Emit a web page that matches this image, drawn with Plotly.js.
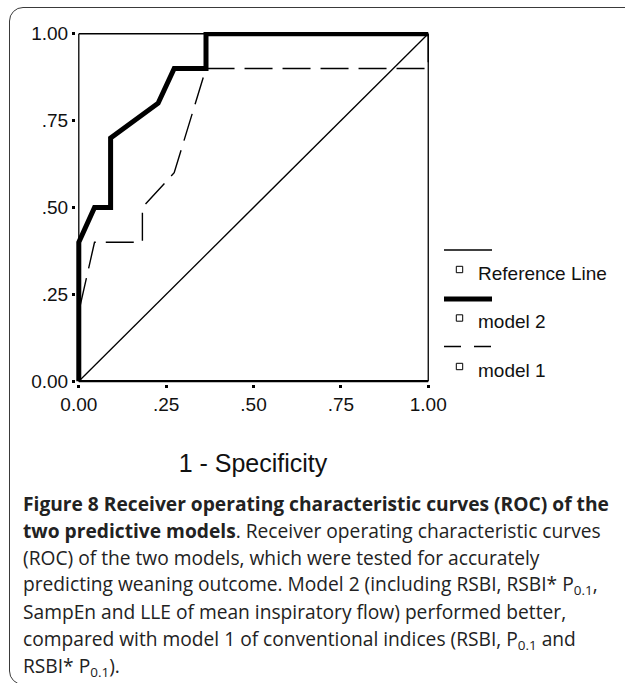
<!DOCTYPE html>
<html>
<head>
<meta charset="utf-8">
<script src="https://cdn.plot.ly/plotly-3.0.1.min.js"></script>
<style>
  html, body { margin: 0; padding: 0; background: #ffffff; }
  #wrap { position: relative; width: 625px; height: 683px; overflow: hidden; }
  #frame { position: absolute; left: 9px; top: 7px; width: 720px; height: 678px;
           border: 1.3px solid #3a3a3a; border-radius: 14px; box-sizing: border-box; }
  #chart { position: absolute; left: 0; top: 0; width: 625px; height: 683px; }
</style>
</head>
<body>
<div id="wrap">
  <div id="frame"></div>
  <div id="chart"></div>
</div>
<script>
// ---- data ----
const refX = [0, 1];
const refY = [0, 1];
const model2X = [0, 0, 0.045, 0.091, 0.091, 0.227, 0.273, 0.364, 0.364, 1.0];
const model2Y = [0, 0.4, 0.5, 0.5, 0.7, 0.8, 0.9, 0.9, 1.0, 1.0];
const model1X = [0, 0, 0.045, 0.182, 0.182, 0.273, 0.364, 1.0, 1.0];
const model1Y = [0, 0.2, 0.4, 0.4, 0.5, 0.6, 0.9, 0.9, 1.0];
const tickVals = [0, 0.25, 0.5, 0.75, 1];
const tickText = ["0.00", ".25", ".50", ".75", "1.00"];
const seriesNames = ["Reference Line", "model 2", "model 1"];
const axisTitle = "1 - Specificity";
const captionLines = [
  "<b>Figure 8 Receiver operating characteristic curves (ROC) of the</b>",
  "<b>two predictive models</b>. Receiver operating characteristic curves",
  "(ROC) of the two models, which were tested for accurately",
  "predicting weaning outcome. Model 2 (including RSBI, RSBI* P<sub>0.1</sub>,",
  "SampEn and LLE of mean inspiratory flow) performed better,",
  "compared with model 1 of conventional indices (RSBI, P<sub>0.1</sub> and",
  "RSBI* P<sub>0.1</sub>)."
];

// ---- layout geometry ----
const W = 625, H = 683;
const M = { l: 76, r: 195, t: 32, b: 299 };
const PW = W - M.l - M.r, PH = H - M.t - M.b;
const xp = px => (px - M.l) / PW;          // pixel -> paper x
const yp = py => (H - M.b - py) / PH;      // pixel -> paper y

const tickFont = { family: "Liberation Sans, Arial, sans-serif", size: 19, color: "#111" };

const traces = [
  { x: refX, y: refY, name: seriesNames[0], mode: "lines", line: { color: "#000", width: 1.3 }, hoverinfo: "skip" },
  { x: model1X, y: model1Y, name: seriesNames[2], mode: "lines", line: { color: "#000", width: 1.4, dash: "28px,10px" }, hoverinfo: "skip" },
  { x: model2X, y: model2Y, name: seriesNames[1], mode: "lines", line: { color: "#000", width: 5 }, hoverinfo: "skip" }
];

// plot frame lines
const shapes = [
  { type: "line", xref: "x", yref: "y", x0: 0, x1: 0, y0: 0, y1: 1, line: { color: "#000", width: 1.3 }, layer: "below" },
  { type: "line", xref: "x", yref: "y", x0: 0, x1: 1, y0: 1, y1: 1, line: { color: "#000", width: 1.3 }, layer: "below" },
  { type: "line", xref: "x", yref: "y", x0: 1, x1: 1, y0: 0, y1: 1, line: { color: "#000", width: 1.3 }, layer: "below" },
  { type: "line", xref: "x", yref: "y", x0: 0, x1: 1, y0: 0, y1: 0, line: { color: "#000", width: 2.2 }, layer: "above" }
];

// custom legend (line sample above, small square + label below)
const legX0 = 444, legX1 = 492, sqX = 459.5, txtX = 476;
const legLines = [
  { y: 250, width: 1.3, dash: "solid" },
  { y: 299, width: 5, dash: "solid" },
  { y: 346.5, width: 1.4, dash: "17px,13px" }
];
const legRows = [269.5, 318, 366.5];
const annotations = [];
legLines.forEach((l, i) => {
  shapes.push({ type: "line", xref: "paper", yref: "paper",
    x0: xp(legX0), x1: xp(legX1), y0: yp(l.y), y1: yp(l.y),
    line: { color: "#000", width: l.width, dash: l.dash } });
  const s = 3.2;
  shapes.push({ type: "rect", xref: "paper", yref: "paper",
    x0: xp(sqX - s), x1: xp(sqX + s), y0: yp(legRows[i] + s), y1: yp(legRows[i] - s),
    line: { color: "#000", width: 1 }, fillcolor: "#fff" });
  annotations.push({ xref: "paper", yref: "paper", x: xp(txtX), y: yp(legRows[i] + 3.5),
    xanchor: "left", yanchor: "middle", showarrow: false, text: seriesNames[i],
    font: { family: "Liberation Sans, Arial, sans-serif", size: 19, color: "#111" } });
});

// caption
const capY0 = 503, capStep = 27.2;
captionLines.forEach((t, i) => {
  annotations.push({ xref: "paper", yref: "paper", x: xp(21), y: yp(capY0 + i * capStep),
    xanchor: "left", yanchor: "middle", showarrow: false, align: "left", text: t,
    font: { family: "Open Sans, Noto Sans, sans-serif", size: 19.2, color: "#222" } });
});

const layout = {
  width: W, height: H,
  margin: M,
  paper_bgcolor: "rgba(0,0,0,0)",
  plot_bgcolor: "rgba(0,0,0,0)",
  showlegend: false,
  xaxis: {
    range: [-0.008, 1.005], tickvals: tickVals, ticktext: tickText,
    ticks: "outside", ticklen: 3, tickwidth: 3, tickcolor: "#000",
    showgrid: false, zeroline: false, showline: false, fixedrange: true,
    tickfont: tickFont,
    title: { text: axisTitle, standoff: 40, font: { family: "Liberation Sans, Arial, sans-serif", size: 25, color: "#111" } }
  },
  yaxis: {
    range: [-0.008, 1.005], tickvals: tickVals, ticktext: tickText,
    ticks: "outside", ticklen: 3, tickwidth: 3, tickcolor: "#000",
    showgrid: false, zeroline: false, showline: false, fixedrange: true,
    tickfont: tickFont
  },
  shapes: shapes,
  annotations: annotations
};

Plotly.newPlot("chart", traces, layout, { staticPlot: true, displayModeBar: false });
</script>
</body>
</html>
